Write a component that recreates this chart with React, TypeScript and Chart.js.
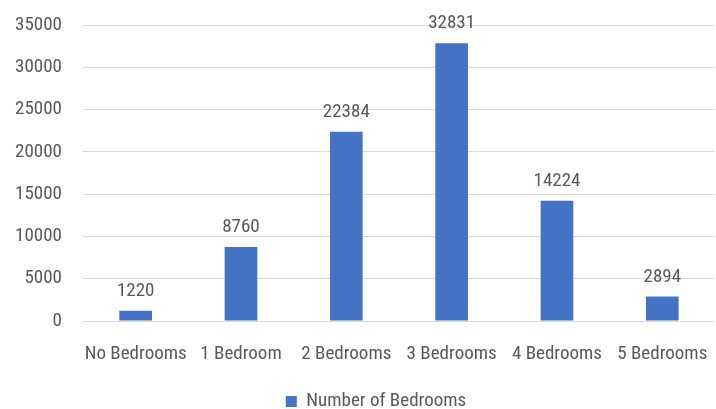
import React, { useEffect, useRef } from "react";
import { Chart, registerables } from "chart.js";

Chart.register(...registerables);

const categories = ["No Bedrooms", "1 Bedroom", "2 Bedrooms", "3 Bedrooms", "4 Bedrooms", "5 Bedrooms"];
const counts = [1220, 8760, 22384, 32831, 14224, 2894];
const seriesName = "Number of Bedrooms";

const FONT = "'Roboto Condensed', 'Liberation Sans', sans-serif";
const TEXT = "#595959";
const SIZE = 19;

const valueLabels = {
  id: "valueLabels",
  afterDatasetsDraw(chart: any) {
    const ctx = chart.ctx;
    ctx.save();
    ctx.font = `${SIZE}px ${FONT}`;
    ctx.fillStyle = TEXT;
    ctx.textAlign = "center";
    ctx.textBaseline = "alphabetic";
    chart.data.datasets.forEach((ds: any, i: number) => {
      const meta = chart.getDatasetMeta(i);
      meta.data.forEach((bar: any, j: number) => {
        ctx.fillText(String(ds.data[j]), bar.x, bar.y - 15);
      });
    });
    ctx.restore();
  },
};

const legendShift = {
  id: "legendShift",
  afterLayout(chart: any) {
    const lg = chart.legend;
    if (lg) {
      lg.left += 15;
      lg.right += 15;
      lg.top += 12;
      lg.bottom += 12;
    }
  },
};

export default function App() {
  const ref = useRef<HTMLCanvasElement | null>(null);
  useEffect(() => {
    if (!ref.current) return;
    const chart = new Chart(ref.current, {
      type: "bar",
      data: {
        labels: categories,
        datasets: [
          {
            label: seriesName,
            data: counts,
            backgroundColor: "#4472C4",
            categoryPercentage: 1,
            barPercentage: 0.31,
          },
        ],
      },
      options: {
        animation: false,
        responsive: false,
        maintainAspectRatio: false,
        layout: { padding: { top: 25, right: 8, left: 0, bottom: 0 } },
        plugins: {
          legend: {
            position: "bottom",
            labels: {
              boxWidth: 11,
              boxHeight: 11,
              color: TEXT,
              font: { family: FONT, size: SIZE },
              padding: 1,
            },
          },
          tooltip: { enabled: false },
        },
        scales: {
          x: {
            afterFit(scale: any) {
              scale.height = 58;
            },
            grid: { display: false, drawTicks: false },
            border: { display: true, color: "#d9d9d9" },
            ticks: {
              color: TEXT,
              font: { family: FONT, size: SIZE },
              padding: 22,
              maxRotation: 0,
              autoSkip: false,
            },
          },
          y: {
            min: 0,
            max: 35000,
            afterFit(scale: any) {
              scale.width = 83;
              scale.paddingTop = 0;
              scale.paddingBottom = 0;
            },
            grid: { color: "#d9d9d9", drawTicks: false },
            border: { display: false },
            ticks: {
              stepSize: 5000,
              color: TEXT,
              font: { family: FONT, size: SIZE },
              padding: 21,
              callback: (v: any) => String(v),
            },
          },
        },
      },
      plugins: [valueLabels, legendShift],
    });
    return () => chart.destroy();
  }, []);
  return (
    <div style={{ position: "fixed", left: 0, top: 0, width: 716, height: 409, overflow: "hidden", background: "#fff" }}>
      <canvas ref={ref} width={730} height={409} style={{ display: "block" }} />
    </div>
  );
}
